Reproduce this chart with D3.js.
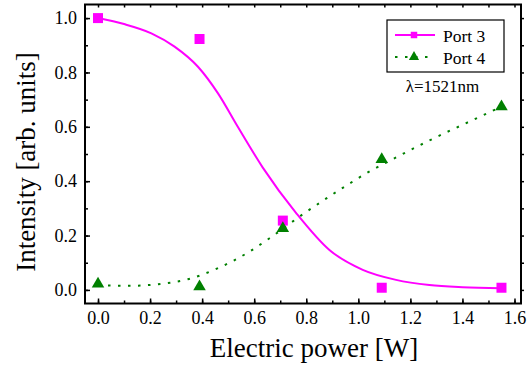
<!DOCTYPE html>
<html>
<head>
<meta charset="utf-8">
<script src="https://cdn.jsdelivr.net/npm/d3@7"></script>
<style>
	body { margin: 0; background: #fff; }
	svg text { font-family: "Liberation Serif", "Times New Roman", serif; fill: #000; }
</style>
</head>
<body>
<svg id="chart" width="529" height="369"></svg>
<script>
// measured points
var powerX = [0, 0.39, 0.71, 1.09, 1.55];
var port3Values = [1.0, 0.923, 0.255, 0.008, 0.008];
var port4Values = [0.022, 0.012, 0.226, 0.48, 0.674];

// fitted curves
var fit3X = [0, 0.10, 0.205, 0.294, 0.384, 0.461, 0.537, 0.633, 0.762, 0.889, 1.017, 1.145, 1.273, 1.40, 1.55];
var fit3Y = [1.0, 0.978, 0.944, 0.895, 0.821, 0.723, 0.60, 0.45, 0.282, 0.147, 0.074, 0.037, 0.018, 0.010, 0.006];
var fit4X = [0, 0.115, 0.23, 0.345, 0.461, 0.582, 0.659, 0.776, 0.928, 1.049, 1.126, 1.28, 1.433, 1.55];
var fit4Y = [0.018, 0.015, 0.021, 0.039, 0.080, 0.141, 0.19, 0.271, 0.368, 0.439, 0.478, 0.553, 0.622, 0.674];

var xTicks = [0, 0.2, 0.4, 0.6, 0.8, 1.0, 1.2, 1.4, 1.6];
var yTicks = [0, 0.2, 0.4, 0.6, 0.8, 1.0];
var seriesNames = ['Port 3', 'Port 4'];

(function() {

	var svg = d3.select('#chart'),
		left = 85, right = 521, top = 4.5, bottom = 303.5,
		magenta = '#ff00ff',
		green = '#008000';

	var x = d3.scaleLinear().domain([-0.05, 1.625]).range([left, right]);
	var y = d3.scaleLinear().domain([-0.05, 1.05]).range([bottom, top]);

	var minorX = d3.range(0, 1.65, 0.1),
		minorY = d3.range(0, 1.05, 0.1);

	// bottom axis with inward ticks
	var xAxis = svg.append('g').attr('transform', 'translate(0,' + bottom + ')');
	xAxis.call(d3.axisBottom(x).tickValues(minorX).tickSize(-3).tickFormat(''));
	xAxis.append('g').call(d3.axisBottom(x).tickValues(xTicks).tickSize(-5).tickPadding(8).tickFormat(d3.format('.1f')));
	xAxis.selectAll('.domain').remove();
	xAxis.selectAll('text').attr('font-size', 18);

	var yAxis = svg.append('g').attr('transform', 'translate(' + left + ',0)');
	yAxis.call(d3.axisLeft(y).tickValues(minorY).tickSize(-3).tickFormat(''));
	yAxis.append('g').call(d3.axisLeft(y).tickValues(yTicks).tickSize(-5).tickPadding(8).tickFormat(d3.format('.1f')));
	yAxis.selectAll('.domain').remove();
	yAxis.selectAll('text').attr('font-size', 18);

	// top and right mirror ticks
	var topAxis = svg.append('g').attr('transform', 'translate(0,' + top + ')');
	topAxis.call(d3.axisTop(x).tickValues(minorX).tickSize(-3).tickFormat(''));
	topAxis.selectAll('.domain').remove();

	var rightAxis = svg.append('g').attr('transform', 'translate(' + right + ',0)');
	rightAxis.call(d3.axisRight(y).tickValues(minorY).tickSize(3).tickFormat(''));
	rightAxis.selectAll('.domain').remove();

	svg.selectAll('.tick line').attr('stroke', '#000').attr('stroke-width', 1.5);

	svg.append('rect')
		.attr('x', left)
		.attr('y', top)
		.attr('width', right - left)
		.attr('height', bottom - top)
		.attr('fill', 'none')
		.attr('stroke', '#000')
		.attr('stroke-width', 2);

	var line = d3.line()
		.x(function(d) { return x(d[0]); })
		.y(function(d) { return y(d[1]); })
		.curve(d3.curveMonotoneX);

	svg.append('path')
		.datum(d3.zip(fit4X, fit4Y))
		.attr('d', line)
		.attr('fill', 'none')
		.attr('stroke', green)
		.attr('stroke-width', 2)
		.attr('stroke-dasharray', '2.5,7.5');

	svg.append('path')
		.datum(d3.zip(fit3X, fit3Y))
		.attr('d', line)
		.attr('fill', 'none')
		.attr('stroke', magenta)
		.attr('stroke-width', 2);

	var square = d3.symbol(d3.symbolSquare, 100),
		triangle = d3.symbol(d3.symbolTriangle, 68);

	svg.append('g').selectAll('path')
		.data(d3.zip(powerX, port3Values))
		.enter()
			.append('path')
			.attr('d', square)
			.attr('fill', magenta)
			.attr('transform', function(d) { return 'translate(' + x(d[0]) + ',' + y(d[1]) + ')'; });

	svg.append('g').selectAll('path')
		.data(d3.zip(powerX, port4Values))
		.enter()
			.append('path')
			.attr('d', triangle)
			.attr('fill', green)
			.attr('transform', function(d) { return 'translate(' + x(d[0]) + ',' + y(d[1]) + ')'; });

	// legend
	var legend = svg.append('g');
	legend.append('rect')
		.attr('x', 387).attr('y', 20)
		.attr('width', 117).attr('height', 52)
		.attr('fill', '#fff')
		.attr('stroke', '#000')
		.attr('stroke-width', 1.2);

	var rows = legend.selectAll('g.row')
		.data(seriesNames)
		.enter()
			.append('g')
			.attr('class', 'row')
			.attr('transform', function(d, i) { return 'translate(0,' + (35 + i * 22) + ')'; });

	rows.append('line')
		.attr('x1', 395).attr('x2', 435)
		.attr('stroke', function(d, i) { return i ? green : magenta; })
		.attr('stroke-width', 2)
		.attr('stroke-dasharray', function(d, i) { return i ? '2.5,7.5' : null; });

	rows.append('path')
		.attr('d', function(d, i) { return i ? d3.symbol(d3.symbolTriangle, 45)() : d3.symbol(d3.symbolSquare, 42)(); })
		.attr('transform', 'translate(414,0)')
		.attr('fill', function(d, i) { return i ? green : magenta; });

	rows.append('text')
		.attr('x', 443)
		.attr('y', 6.5)
		.attr('font-size', 17.5)
		.text(function(d) { return d; });

	svg.append('text')
		.attr('x', 442.5)
		.attr('y', 91.5)
		.attr('text-anchor', 'middle')
		.attr('font-size', 17)
		.text('λ=1521nm');

	svg.append('text')
		.attr('x', 314)
		.attr('y', 357)
		.attr('text-anchor', 'middle')
		.attr('font-size', 27)
		.text('Electric power [W]');

	svg.append('text')
		.attr('transform', 'translate(35,162) rotate(-90)')
		.attr('text-anchor', 'middle')
		.attr('font-size', 27)
		.text('Intensity [arb. units]');

}());
</script>
</body>
</html>
